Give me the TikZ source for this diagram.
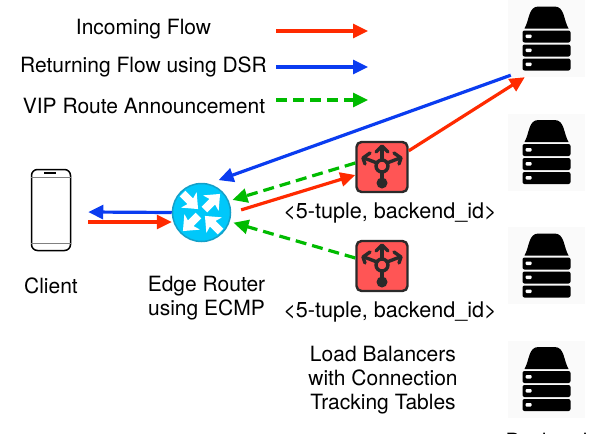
\documentclass[tikz,border=0pt]{standalone}
\usepackage{fontspec}
\setmainfont{TeX Gyre Heros}
\usetikzlibrary{arrows.meta}
\definecolor{flowred}{HTML}{FF2A00}
\definecolor{flowblue}{HTML}{0A3CF0}
\definecolor{flowgreen}{HTML}{00BB00}
\definecolor{lbred}{HTML}{FF5555}
\definecolor{lbdark}{HTML}{2A2A2A}
\definecolor{routerblue}{HTML}{00C8FA}
\definecolor{routeredge}{HTML}{14A0C8}
\tikzset{
  label/.style={font=\fontsize{21}{24}\selectfont,align=center,inner sep=0pt},
  tuplelabel/.style={label,font=\fontsize{21.6}{24}\selectfont},
  flow/.style={line width=3.2pt,-{Triangle[length=15pt,width=14pt]}},
  incoming/.style={flow,flowred},
  returning/.style={flow,flowblue},
  announce/.style={flow,flowgreen,dash pattern=on 11pt off 6pt},
  client/.style={draw,line width=1.5pt,rounded corners=6pt,minimum width=39pt,minimum height=81pt,inner sep=0pt},
  router/.style={circle,draw=routeredge,fill=routerblue,line width=1.5pt,minimum size=58pt,inner sep=0pt},
  balancer/.style={draw=lbdark,fill=lbred,line width=2.4pt,rounded corners=5pt,minimum width=51pt,minimum height=50pt,inner sep=0pt},
  backend/.style={fill=black!2,minimum size=77pt,inner sep=0pt},
  server/.pic={
    \fill[black] (-8,-32) -- (8,-32) to[out=0,in=120] (22,-10) -- (-22,-10) to[out=60,in=180] cycle;
    \foreach \y in {-8,6,20} {
      \fill[black,rounded corners=2pt] (-24,\y) rectangle (24,\y+12);
      \fill[white,rounded corners=1pt] (-21,\y+4) rectangle (-15,\y+7.5);
    }
  },
  tuplebranch/.pic={
    \begin{scope}[lbdark,line width=3.4pt,line cap=round,line join=round]
      \draw (0,-1) circle (6pt);
      \draw (0,5) -- (0,16);
      \draw (0,-7) -- (0,-20);
      \draw (-6,-15) -- (0,-21) -- (6,-15);
      \draw (-5,-4) -- (-18,-9);
      \draw (5,-4) -- (18,-9);
      \draw (-12,-14) -- (-19,-9) -- (-17,-3);
      \draw (12,-14) -- (19,-9) -- (17,-3);
    \end{scope}
    \fill[lbdark] (0,16) circle (5.5pt);
  },
  routerarrow/.pic={
    \fill[white] (0,-4) -- (11,-4) -- (9,-11) -- (22,0) -- (9,11) -- (11,4) -- (0,4) -- cycle;
  }
}
\begin{document}
\begin{tikzpicture}[x=1pt,y=-1pt]
  \useasboundingbox (0,0) rectangle (603,434);
  \clip (0,0) rectangle (603,434);
  % legend
  \node[label] (legin) at (143.5,29.5) {Incoming Flow};
  \node[label] (legret) at (143.5,67) {Returning Flow using DSR};
  \node[label] (legvip) at (144,106) {VIP Route Announcement};
  \coordinate (inA) at (276,31);
  \coordinate (inB) at (368,31);
  \coordinate (retA) at (276,67);
  \coordinate (retB) at (368,67);
  \coordinate (vipA) at (276,100);
  \coordinate (vipB) at (368,100);
  \draw[incoming] (inA) -- (inB);
  \draw[returning] (retA) -- (retB);
  \draw[announce] (vipA) -- (vipB);
  % client
  \node[client] (phone) at (51,210) {};
  \draw[line width=.5pt,gray] (phone.west |- 0,177) -- (phone.east |- 0,177);
  \draw[line width=.5pt,gray] (phone.west |- 0,243) -- (phone.east |- 0,243);
  \draw[line width=1.2pt] (44,173) -- (56,173);
  \node[label] (clienttext) at (51,286) {Client};
  % router
  \node[router] (edge) at (201.5,212.5) {};
  \pic[rotate=45] at ([shift={(3,-3)}]edge.center) {routerarrow};
  \pic[rotate=225] at ([shift={(-3,3)}]edge.center) {routerarrow};
  \pic[rotate=-45] at ([shift={(-19,-19)}]edge.center) {routerarrow};
  \pic[rotate=135] at ([shift={(19,19)}]edge.center) {routerarrow};
  \node[label] (edgetext) at (206.5,298) {Edge Router\\using ECMP};
  % load balancers
  \node[balancer] (lbone) at (382,167) {};
  \node[balancer] (lbtwo) at (382,266) {};
  \pic at (lbone) {tuplebranch};
  \pic at (lbtwo) {tuplebranch};
  \node[tuplelabel] (tupleone) at (390,213) {<5-tuple, backend\_id>};
  \node[tuplelabel] (tupletwo) at (390,312) {<5-tuple, backend\_id>};
  \node[label] (lbtext) at (383,380.5) {Load Balancers\\with Connection\\Tracking Tables};
  % backends
  \foreach \name/\ypos in {srvone/38.5,srvtwo/152,srvthree/265.5,srvfour/379} {
    \node[backend] (\name) at (546.5,\ypos) {};
    \pic at (\name) {server};
  }
  \node[label,anchor=base] (backtext) at (546.5,448) {Backend};
  % flows
  \draw[returning] (edge.west) -- ([xshift=17pt,yshift=-2pt]phone.east);
  \draw[incoming] ([xshift=17pt,yshift=-12pt]phone.east) -- ([yshift=-9.5pt]edge.west);
  \draw[incoming] ([xshift=10pt]edge.5) -- ([yshift=-8pt]lbone.west);
  \draw[announce] ([yshift=4pt]lbone.west) -- ([xshift=4pt]edge.25);
  \draw[announce] ([yshift=8pt]lbtwo.west) -- ([xshift=4pt]edge.-20);
  \draw[incoming] ([yshift=-10pt]lbone.north east) -- ([xshift=17pt]srvone.south west);
  \draw[returning] ([xshift=3pt,yshift=2pt]srvone.south west) -- ([yshift=8pt]edge.55);
\end{tikzpicture}
\end{document}
